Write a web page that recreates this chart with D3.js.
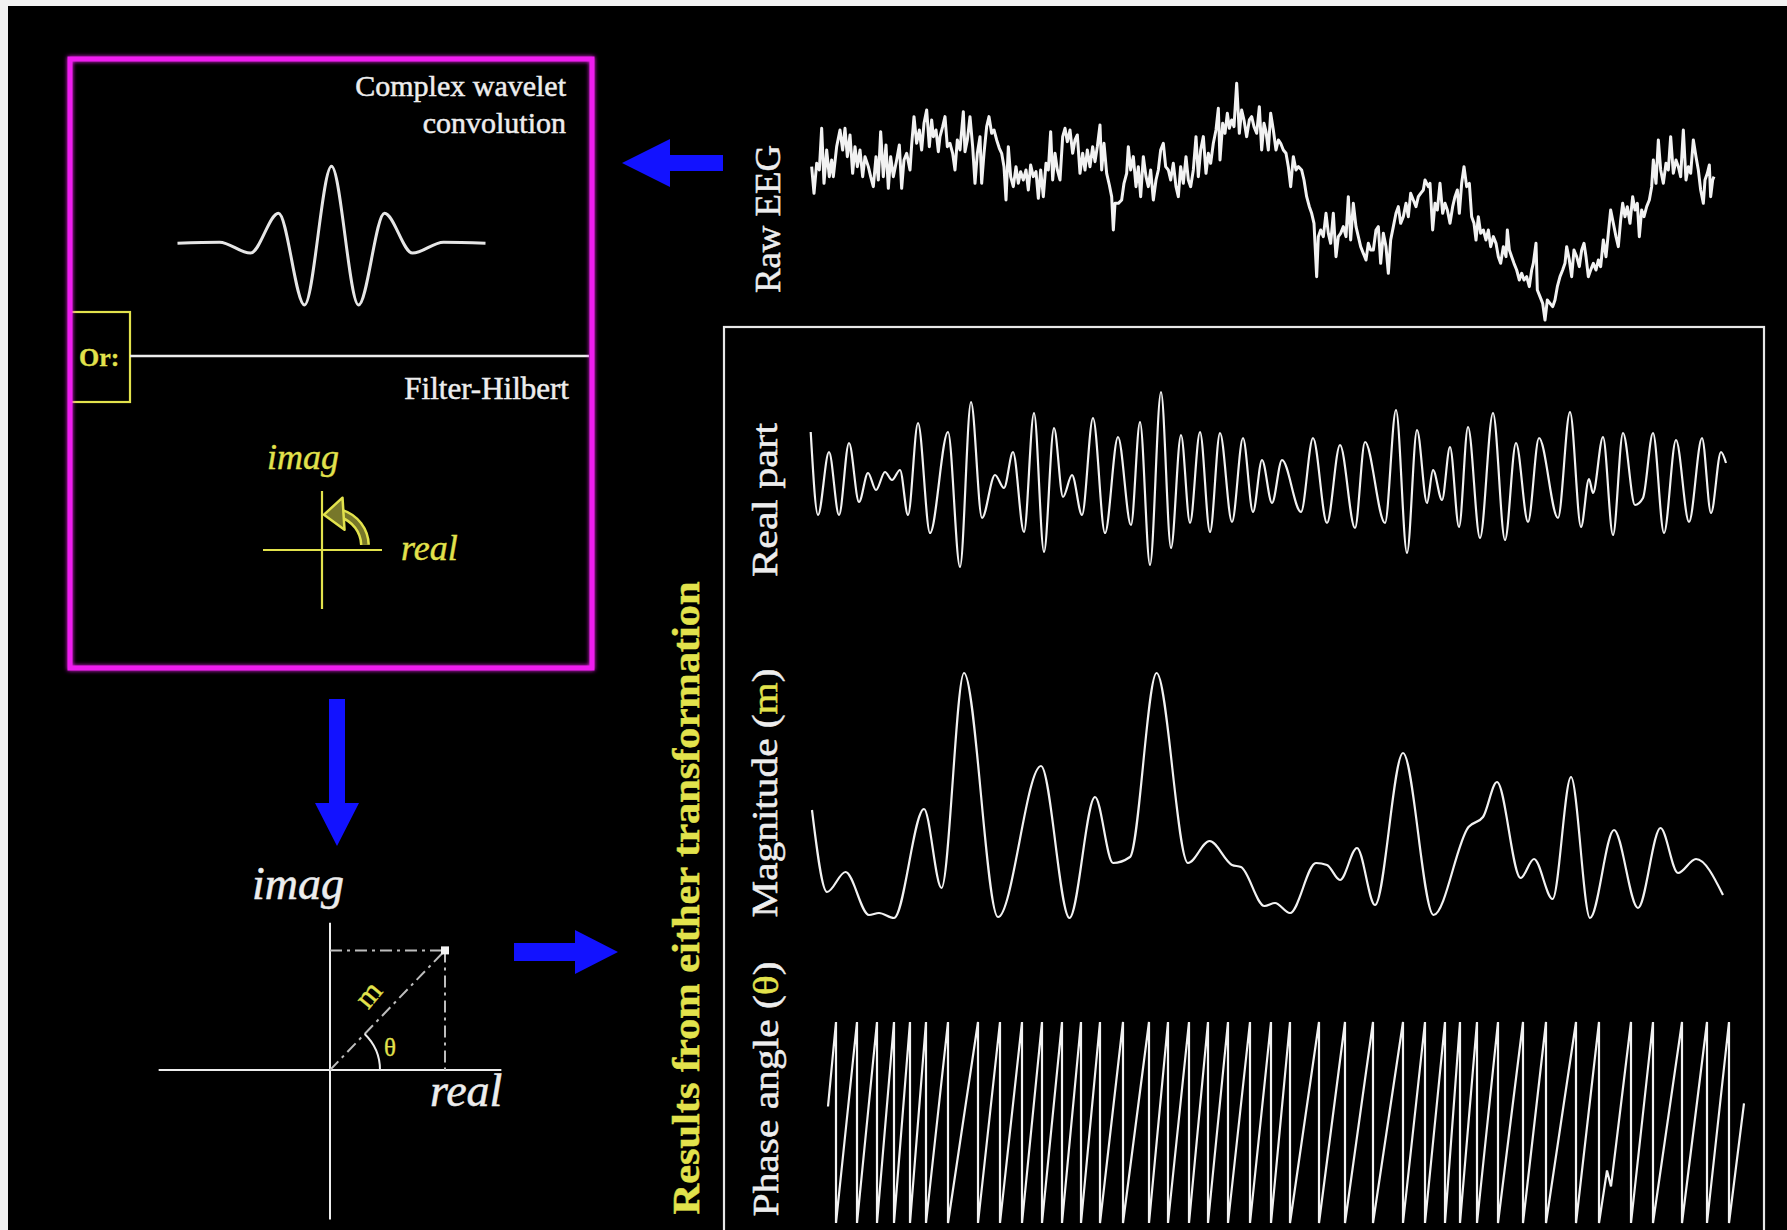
<!DOCTYPE html>
<html>
<head>
<meta charset="utf-8">
<script src="https://cdn.jsdelivr.net/npm/d3@7"></script>
<style>
  html, body { margin: 0; padding: 0; background: #f2f2f2; }
  svg { display: block; }
</style>
</head>
<body>
<svg id="fig" width="1787" height="1230"></svg>
<script>
// ---------------------------------------------------------------
// Signals (time in samples, amplitude in arbitrary units)
// ---------------------------------------------------------------

// Morlet wavelet (real part) used for the convolution
const waveletTime  = [-154, -112, -81, -53, -27, 0, 27, 53, 81, 112, 154];
const waveletValue = [0, 1, -10, 30, -62, 77, -62, 30, -10, 1, 0];

// Raw EEG trace: [time, amplitude]
const eegSamples = [
  [5,110],[12,30],[20,120],[28,100],[35,225],[42,60],[50,160],[58,80],[65,130],[70,80],
  [80,170],[90,220],[98,160],[105,225],[112,140],[120,205],[128,90],[135,170],[142,110],[150,160],
  [158,80],[165,140],[175,110],[182,80],[190,50],[198,140],[205,70],[212,215],[220,80],[228,175],
  [235,45],[242,140],[250,80],[260,130],[268,175],[275,45],[282,130],[290,150],[300,100],[305,175],
  [312,260],[320,180],[328,220],[335,160],[342,240],[350,280],[358,170],[365,250],[370,200],[378,220],
  [385,155],[390,200],[398,230],[405,260],[412,170],[420,180],[428,150],[435,100],[442,190],[450,160],
  [460,275],[465,155],[472,190],[480,260],[488,170],[495,60],[502,150],[510,200],[515,60],[522,150],
  [530,230],[537,260],[545,210],[552,220],[560,190],[568,165],[575,150],[582,110],[588,10],[595,170],
  [602,80],[610,50],[618,110],[625,60],[632,95],[640,70],[648,100],[655,40],[662,115],[670,80],
  [678,95],[685,15],[692,100],[700,20],[708,120],[715,100],[722,215],[728,70],[735,150],[742,100],
  [750,70],[758,200],[765,225],[772,185],[780,220],[788,150],[795,190],[802,205],[810,90],[818,150],
  [825,100],[832,160],[840,110],[848,170],[855,125],[862,170],[870,235],[875,100],[882,180],[890,90],
  [898,55],[905,20],[910,-80],[915,0],[925,0],
  [935,10],[942,60],[950,90],[955,170],[962,100],[970,140],[978,50],[985,110],[992,20],[1000,140],
  [1008,80],[1015,50],[1022,100],[1030,10],[1038,70],[1045,100],[1052,160],[1060,180],[1067,110],[1075,100],
  [1082,70],[1090,120],[1098,50],[1105,20],[1112,110],[1120,60],[1128,140],[1135,70],[1142,50],[1150,100],
  [1158,200],[1165,80],[1172,160],[1180,200],[1188,90],[1195,150],[1202,120],[1210,180],[1218,220],[1225,285],
  [1230,130],[1238,240],[1245,210],[1252,270],[1258,225],[1265,250],[1272,230],[1280,360],[1288,210],[1295,280],
  [1302,250],[1310,200],[1318,250],[1325,260],[1332,230],[1340,210],[1348,290],[1355,160],[1362,240],[1368,215],
  [1375,160],[1382,270],[1390,220],[1398,160],[1405,190],[1412,180],[1420,160],[1428,150],[1435,110],[1442,50],
  [1450,140],[1458,100],[1465,110],[1475,100],[1482,70],[1490,20],[1498,-10],[1505,-30],[1512,-60],[1520,-220],
  [1525,-100],[1532,-80],[1540,-100],[1548,-30],[1555,-90],[1562,-120],[1570,-30],[1578,-160],[1585,-100],[1592,-90],
  [1600,-70],[1608,-100],[1615,20],[1622,-110],[1630,0],[1638,-70],[1645,-100],[1652,-130],[1660,-150],[1668,-170],
  [1675,-120],[1682,-140],[1690,-140],[1698,-80],[1705,-70],[1712,-180],[1720,-90],[1728,-130],[1735,-210],[1742,-110],
  [1750,-70],[1758,-30],[1765,-10],[1772,-60],[1780,-40],[1788,0],[1795,-40],[1802,30],[1810,10],[1818,-10],
  [1825,20],[1832,30],[1840,40],[1845,70],[1855,50],
  [1860,60],[1868,-80],[1875,0],[1882,-20],[1890,60],[1898,-30],[1905,0],[1912,-20],[1920,-60],[1928,-10],
  [1935,20],[1942,40],[1948,-30],[1955,60],[1962,110],[1970,50],[1978,60],[1985,-40],[1992,-60],[1998,-110],
  [2005,-40],[2012,-90],[2020,-80],[2028,-110],[2035,-80],[2042,-130],[2050,-100],[2058,-120],[2065,-160],[2072,-180],
  [2080,-130],[2088,-160],[2092,-80],[2098,-140],[2105,-160],[2112,-180],[2120,-200],[2128,-230],[2135,-210],[2142,-230],
  [2150,-220],[2158,-250],[2165,-200],[2170,-180],[2178,-120],[2182,-260],[2190,-280],[2198,-300],[2205,-350],[2212,-290],
  [2220,-300],[2228,-310],[2235,-290],[2242,-250],[2250,-220],[2258,-200],[2265,-180],[2270,-130],[2278,-170],[2285,-220],
  [2292,-140],[2300,-160],[2308,-190],[2315,-140],[2322,-120],[2328,-160],[2335,-220],[2342,-200],[2350,-180],[2358,-200],
  [2365,-170],[2372,-190],[2380,-110],[2388,-160],[2395,-90],[2402,-20],[2410,-60],[2418,-100],[2425,-130],[2432,-50],
  [2438,0],[2445,-40],[2452,-10],[2460,-60],[2468,20],[2475,-20],[2482,0],[2488,-100],[2495,-20],[2502,-40],
  [2510,-10],[2518,10],[2525,50],[2530,130],[2538,60],[2545,190],[2552,100],[2560,60],[2568,120],[2575,100],
  [2582,200],[2590,90],[2598,130],[2605,110],[2612,80],[2620,220],[2628,70],[2635,110],[2642,90],[2650,190],
  [2658,140],[2665,100],[2672,40],[2680,0],[2685,70],[2692,90],[2698,115],[2702,20],[2708,70],[2712,80]
];

// Band-pass result, real part: turning points [time] / [amplitude]
const realTime = [0.7,8,19,29,39,49,58,66,75,82, 90,98,108,120,138,150,161,172,185,194,
  203,214,224,234,244,253,262,272,283,295, 308,321,330,340,351,361,371,380,390,400,
  410,422,433,443,452,462,472,491,503,517, 530,545,555,575,586,597,607,617,623,632,
  640,649,658,670,683,695,706,718,729,748, 760,771,779,783,793,803,813,825,833,843,
  854,866,879,892,901,911,916];
const realValue = [50,-33,30,-33,39,-20,9,-8,10,2, 12,-33,59,-51,50,-85,80,-36,7,-6,
  30,-50,69,-70,54,-15,7,-33,64,-51, 45,-43,60,-83,90,-66,47,-41,50,-50,
  49,-40,44,-30,22,-21,22,-30,44,-41, 37,-46,40,-41,72,-71,52,-21,12,-18,
  35,-45,55,-56,69,-58,39,-40,44,-36, 70,-45,3,-11,45,-53,49,-23,-16,49,
  -51,42,-40,44,-31,30,19];

// Magnitude (envelope) turning points
const magTime = [2,17,35.5,59,69,84,114,131.5,154,188, 231,259.5,285,303,320,346.6,378,399.5,422,431,
  454.5,465,480,506,517,530,547,565,593,623.5, 658.5,673,687,710.6,724,742.6,761,780,804,828,
  850.5,868,886,913];
const magValue = [110,28,48,5,7,2,111,32,247,3, 154,2,123,57,63,247,57,79,55,53,
  14,17,7,57,55,40,72,15,167,5, 93,103,138,42,61,21,143,2,90,12,
  92,47,61,25];

// Phase angle: times where the phase wraps from +pi to -pi
const phaseWrapTimes = [8,29,49,66,82,98,120,150,172,194,214,234,253,272,295,321,340,361,380,400,
  422,443,462,491,517,545,575,597,617,632,649,670,695,718,748,771,803,825,854,879,901];
const phaseKinks = [[779, -1.5], [783, -2.0]];   // brief backward slip of the phase
const phaseStart = [0, 0.5];
const phaseEnd   = [916, 0.6];

// Example complex value shown on the complex plane
const examplePoint = { re: 1, im: 1.04 };

// ---------------------------------------------------------------
// Drawing
// ---------------------------------------------------------------
const W = 1787, H = 1230;
const serif = "'Liberation Serif','Times New Roman',serif";
const WHITE = "#ededed", TRACE = "#f2f2f2", YELLOW = "#e2e24c", MAGENTA = "#f01ef0", BLUE = "#1212ff";

const svg = d3.select("#fig");

const defs = svg.append("defs");
const glow = defs.append("filter").attr("id", "glow").attr("x", "-5%").attr("y", "-5%").attr("width", "110%").attr("height", "110%");
glow.append("feGaussianBlur").attr("stdDeviation", 2.2).attr("result", "b");
const merge = glow.append("feMerge");
merge.append("feMergeNode").attr("in", "b");
merge.append("feMergeNode").attr("in", "SourceGraphic");

// black slide area
svg.append("rect").attr("x", 8).attr("y", 6).attr("width", W - 8).attr("height", H - 6).attr("fill", "#000");

// helper: serif text with a slightly heavier stroke
function label(parent, x, y, str, o = {}) {
  const fill = o.fill || WHITE;
  return parent.append("text").attr("x", x).attr("y", y)
    .attr("text-anchor", o.anchor || "start").attr("fill", fill)
    .attr("stroke", fill).attr("stroke-width", o.sw == null ? 0.5 : o.sw)
    .attr("font-family", serif).attr("font-size", o.size || 30)
    .attr("font-style", o.italic ? "italic" : "normal")
    .attr("font-weight", o.bold ? "bold" : "normal")
    .text(str);
}

// ---------- Left box: complex wavelet convolution / filter-Hilbert ----------
const box = svg.append("g");

// "Or:" tab
box.append("rect").attr("x", 70).attr("y", 312).attr("width", 60).attr("height", 90)
  .attr("fill", "none").attr("stroke", YELLOW).attr("stroke-width", 2.2);
label(box, 79, 366, "Or:", { fill: YELLOW, bold: true, size: 26, sw: 0.3 });

// separator
box.append("line").attr("x1", 130).attr("x2", 589).attr("y1", 356).attr("y2", 356)
  .attr("stroke", WHITE).attr("stroke-width", 2.4);

// magenta frame
box.append("rect").attr("x", 70).attr("y", 59).attr("width", 522).attr("height", 609)
  .attr("fill", "none").attr("stroke", MAGENTA).attr("stroke-width", 5).attr("filter", "url(#glow)");

label(box, 566, 96, "Complex wavelet", { anchor: "end" });
label(box, 566, 133, "convolution", { anchor: "end" });
label(box, 569, 399, "Filter-Hilbert", { anchor: "end", size: 31 });

// wavelet
const wx = d3.scaleLinear().domain([-154, 154]).range([177.5, 485.5]);
const wy = d3.scaleLinear().domain([-62, 77]).range([305, 166.3]);
const wavelet = d3.zip(waveletTime, waveletValue);
box.append("path").datum(wavelet)
  .attr("d", d3.line().x(d => wx(d[0])).y(d => wy(d[1])).curve(d3.curveMonotoneX))
  .attr("fill", "none").attr("stroke", "#e6e6e6").attr("stroke-width", 3);

// small yellow complex-plane icon with rotation arrow
const icon = box.append("g");
icon.append("line").attr("x1", 263).attr("x2", 382).attr("y1", 550).attr("y2", 550)
  .attr("stroke", YELLOW).attr("stroke-width", 2.2);
icon.append("line").attr("x1", 322).attr("x2", 322).attr("y1", 491).attr("y2", 609)
  .attr("stroke", YELLOW).attr("stroke-width", 2.2);
{
  const cx = 331, cy = 546, r = 34;
  const a0 = 2 * Math.PI / 180, a1 = 72 * Math.PI / 180;
  const p0 = [cx + r * Math.cos(a0), cy - r * Math.sin(a0)];
  const p1 = [cx + r * Math.cos(a1), cy - r * Math.sin(a1)];
  const arcD = `M${p0[0]},${p0[1]} A${r},${r} 0 0 0 ${p1[0]},${p1[1]}`;
  icon.append("path").attr("d", arcD).attr("fill", "none").attr("stroke", YELLOW).attr("stroke-width", 10);
  icon.append("path").attr("d", arcD).attr("fill", "none").attr("stroke", "#77772a").attr("stroke-width", 5);
  // arrow head pointing left to the imaginary axis
  const hx = p1[0] + 1, hy = p1[1];
  icon.append("path")
    .attr("d", `M${hx},${hy - 16} L${324},${hy + 1} L${hx + 2},${hy + 16} Z`)
    .attr("fill", "#77772a").attr("stroke", YELLOW).attr("stroke-width", 2.5).attr("stroke-linejoin", "round");
}
label(icon, 267, 469, "imag", { fill: YELLOW, italic: true, size: 36, sw: 0.4 });
label(icon, 401, 560, "real", { fill: YELLOW, italic: true, size: 36, sw: 0.4 });

// ---------- Blue flow arrows ----------
const arrows = svg.append("g").attr("fill", BLUE);
arrows.append("polygon").attr("points", [[622,163],[670,139],[670,155],[723,155],[723,171],[670,171],[670,187]].join(" "));
arrows.append("polygon").attr("points", [[329,699],[345,699],[345,803],[359,803],[337,846],[315,803],[329,803]].join(" "));
arrows.append("polygon").attr("points", [[514,943],[575,943],[575,930],[618,952],[575,974],[575,961],[514,961]].join(" "));

// ---------- Complex plane ----------
const px = d3.scaleLinear().domain([0, 1]).range([330, 445]);
const py = d3.scaleLinear().domain([0, 1]).range([1070, 955]);
const plane = svg.append("g");
plane.append("line").attr("x1", px(-1.49)).attr("x2", px(1.49)).attr("y1", py(0)).attr("y2", py(0))
  .attr("stroke", WHITE).attr("stroke-width", 2);
plane.append("line").attr("x1", px(0)).attr("x2", px(0)).attr("y1", py(1.28)).attr("y2", py(-1.3))
  .attr("stroke", WHITE).attr("stroke-width", 2);
const dash = "12,5,3,5";
const zx = px(examplePoint.re), zy = py(examplePoint.im);
plane.append("line").attr("x1", px(0)).attr("y1", zy).attr("x2", zx).attr("y2", zy)
  .attr("stroke", "#bdbdbd").attr("stroke-width", 2).attr("stroke-dasharray", dash);
plane.append("line").attr("x1", zx).attr("y1", zy).attr("x2", zx).attr("y2", py(0))
  .attr("stroke", "#bdbdbd").attr("stroke-width", 2).attr("stroke-dasharray", dash);
plane.append("line").attr("x1", px(0)).attr("y1", py(0)).attr("x2", zx).attr("y2", zy)
  .attr("stroke", "#bdbdbd").attr("stroke-width", 2).attr("stroke-dasharray", dash);
plane.append("rect").attr("x", zx - 4).attr("y", zy - 4).attr("width", 8).attr("height", 8).attr("fill", "#f4f4f4");
{
  const ang = Math.atan2(py(0) - zy, zx - px(0));
  const r = 50, cx = px(0), cy = py(0);
  plane.append("path")
    .attr("d", `M${cx + r},${cy} A${r},${r} 0 0 0 ${cx + r * Math.cos(ang)},${cy - r * Math.sin(ang)}`)
    .attr("fill", "none").attr("stroke", WHITE).attr("stroke-width", 2);
  plane.append("text").attr("transform", `translate(376,1001) rotate(${-ang * 180 / Math.PI - 4})`)
    .attr("text-anchor", "middle").attr("fill", YELLOW).attr("stroke", YELLOW).attr("stroke-width", 0.4)
    .attr("font-family", serif).attr("font-size", 31).text("m");
}
label(plane, 384, 1056, "θ", { fill: YELLOW, size: 25, sw: 0.3 });
label(plane, 252, 899, "imag", { italic: true, size: 46, sw: 0.5 });
label(plane, 430, 1106, "real", { italic: true, size: 46, sw: 0.5 });

// ---------- Right column: signals ----------
const right = svg.append("g");
right.append("rect").attr("x", 724).attr("y", 327).attr("width", 1040).attr("height", 960)
  .attr("fill", "none").attr("stroke", "#e8e8e8").attr("stroke-width", 2.2);

function vLabel(parent, x, yMid, len, parts, opts = {}) {
  const t = parent.append("text")
    .attr("transform", `translate(${x},${yMid}) rotate(-90)`)
    .attr("text-anchor", "middle").attr("font-family", serif)
    .attr("font-size", opts.size || 36).attr("font-weight", opts.weight || "normal")
    .attr("textLength", len).attr("lengthAdjust", "spacingAndGlyphs");
  parts.forEach(([s, c]) => t.append("tspan").attr("fill", c).attr("stroke", c).attr("stroke-width", 0.5).text(s));
  return t;
}
vLabel(right, 780, 219, 148, [["Raw EEG", WHITE]]);
vLabel(right, 777, 500, 154, [["Real part", WHITE]]);
vLabel(right, 777, 793, 249, [["Magnitude (", WHITE], ["m", YELLOW], [")", WHITE]]);
vLabel(right, 778, 1089, 255, [["Phase angle (", WHITE], ["θ", YELLOW], [")", WHITE]]);
vLabel(right, 699, 898, 633, [["Results from either transformation", YELLOW]], { size: 38, weight: "bold" });

// raw EEG
const eegX = d3.scaleLinear().domain([0, 2751]).range([810, 1727]);
const eegY = d3.scaleLinear().domain([-350, 360]).range([320, 83.3]);
right.append("path").datum(eegSamples)
  .attr("d", d3.line().x(d => eegX(d[0])).y(d => eegY(d[1])))
  .attr("fill", "none").attr("stroke", TRACE).attr("stroke-width", 3).attr("stroke-linejoin", "round");

// real part
const tX = d3.scaleLinear().domain([0, 917]).range([810, 1727]);
const realY = d3.scaleLinear().domain([-90, 90]).range([572, 392]);
right.append("path").datum(d3.zip(realTime, realValue))
  .attr("d", d3.line().x(d => tX(d[0])).y(d => realY(d[1])).curve(d3.curveMonotoneX))
  .attr("fill", "none").attr("stroke", TRACE).attr("stroke-width", 2.2);

// magnitude
const magY = d3.scaleLinear().domain([0, 250]).range([920, 670]);
right.append("path").datum(d3.zip(magTime, magValue))
  .attr("d", d3.line().x(d => tX(d[0])).y(d => magY(d[1])).curve(d3.curveMonotoneX))
  .attr("fill", "none").attr("stroke", TRACE).attr("stroke-width", 2.2);

// phase angle (sawtooth between wraps)
const phX = d3.scaleLinear().domain([0, 917]).range([828, 1745]);
const phY = d3.scaleLinear().domain([-Math.PI, Math.PI]).range([1223, 1022]);
const events = phaseWrapTimes.map(t => ({ t, wrap: true }))
  .concat(phaseKinks.map(([t, v]) => ({ t, v })))
  .sort((a, b) => a.t - b.t);
const phaseVerts = [phaseStart];
events.forEach(e => {
  if (e.wrap) { phaseVerts.push([e.t, Math.PI]); phaseVerts.push([e.t, -Math.PI]); }
  else phaseVerts.push([e.t, e.v]);
});
phaseVerts.push(phaseEnd);
right.append("path").datum(phaseVerts)
  .attr("d", d3.line().x(d => phX(d[0])).y(d => phY(d[1])))
  .attr("fill", "none").attr("stroke", TRACE).attr("stroke-width", 2.2);
</script>
</body>
</html>
